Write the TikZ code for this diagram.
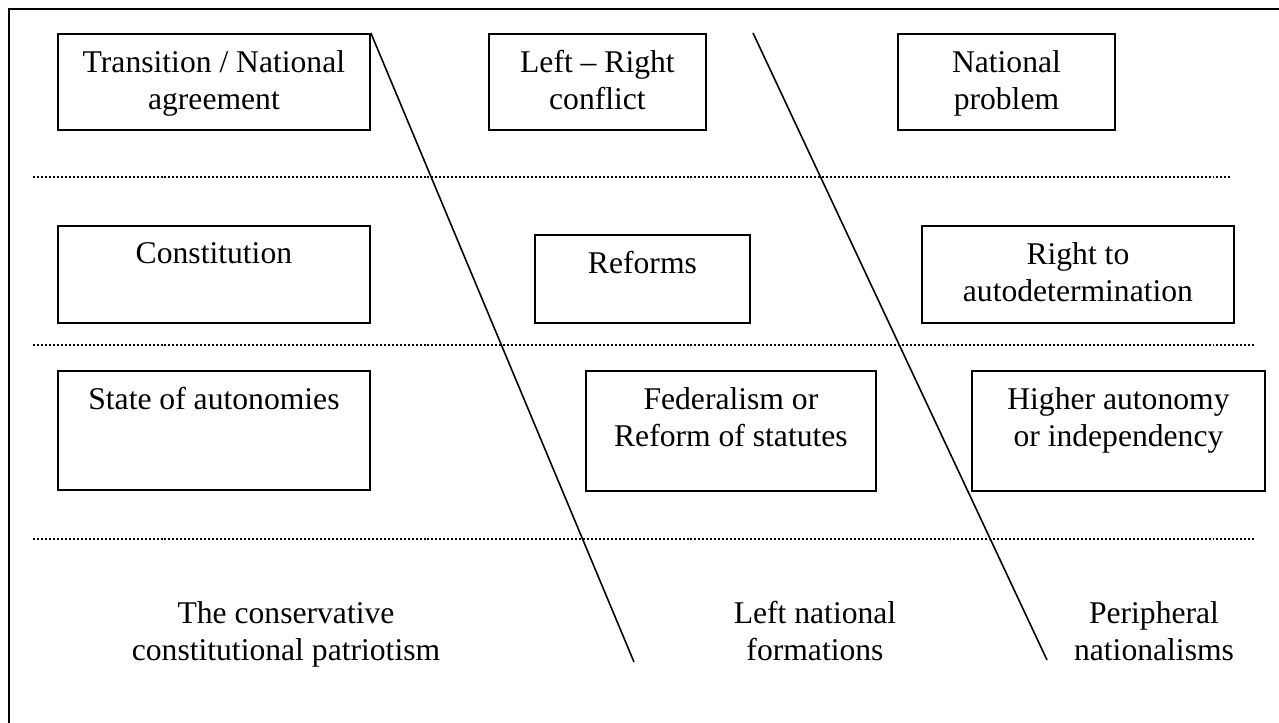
\documentclass[tikz,border=0pt]{standalone}
\usepackage{fontspec}
\setmainfont{Liberation Serif}

\tikzset{
  box/.style={draw, line width=1.1pt, anchor=north west, inner sep=0pt},
  boxtext/.style={anchor=north, yshift=-0.34cm, inner sep=0pt, align=center, font=\fontsize{18}{21}\selectfont},
  foottext/.style={anchor=north, inner sep=0pt, align=center, font=\fontsize{18}{21}\selectfont},
  rowsep/.style={line width=0.7pt, dash pattern=on 1.134pt off 1.134pt},
  divider/.style={line width=0.9pt},
}

\begin{document}
\begin{tikzpicture}[x=0.02cm, y=-0.02cm]
\useasboundingbox (0,0) rectangle (1279,723);

% frame
\draw[line width=1.2pt] (9,723) -- (9,9) -- (1279,9);

% first row
\node[box, minimum width=6.24cm, minimum height=1.92cm] at (57,33) [label={[boxtext]north:{Transition / National\\agreement}}] (trans) {};
\node[box, minimum width=4.34cm, minimum height=1.92cm] at (488,33) [label={[boxtext]north:{Left -- Right\\conflict}}] (leftright) {};
\node[box, minimum width=4.34cm, minimum height=1.92cm] at (897,33) [label={[boxtext]north:{National\\problem}}] (natprob) {};

% second row
\node[box, minimum width=6.24cm, minimum height=1.94cm] at (57,225) [label={[boxtext]north:{Constitution}}] (constit) {};
\node[box, minimum width=4.30cm, minimum height=1.76cm] at (534,234) [label={[boxtext]north:{Reforms}}] (reforms) {};
\node[box, minimum width=6.24cm, minimum height=1.94cm] at (921,225) [label={[boxtext]north:{Right to\\autodetermination}}] (rightto) {};

% third row
\node[box, minimum width=6.24cm, minimum height=2.38cm] at (57,370) [label={[boxtext]north:{State of autonomies}}] (state) {};
\node[box, minimum width=5.80cm, minimum height=2.40cm] at (585,370) [label={[boxtext]north:{Federalism or\\Reform of statutes}}] (federal) {};
\node[box, minimum width=5.86cm, minimum height=2.40cm] at (971,370) [label={[boxtext]north:{Higher autonomy\\or independency}}] (higher) {};

% dotted separators
\draw[rowsep] (33,177) -- (1231,177);
\draw[rowsep] (33,345) -- (1255,345);
\draw[rowsep] (33,539) -- (1255,539);

% the three currents
\node[foottext] at (286,601) (conserv) {The conservative\\constitutional patriotism};
\node[foottext] at (815,601) (leftnat) {Left national\\formations};
\node[foottext] at (1154,601) (periph) {Peripheral\\nationalisms};

% slanted dividers
\coordinate (d1end) at (634,662);
\coordinate (d2top) at (753,33);
\coordinate (d2end) at (1047,660);
\draw[divider] (trans.north east) -- (d1end);
\draw[divider] (d2top) -- (d2end);

\end{tikzpicture}
\end{document}
